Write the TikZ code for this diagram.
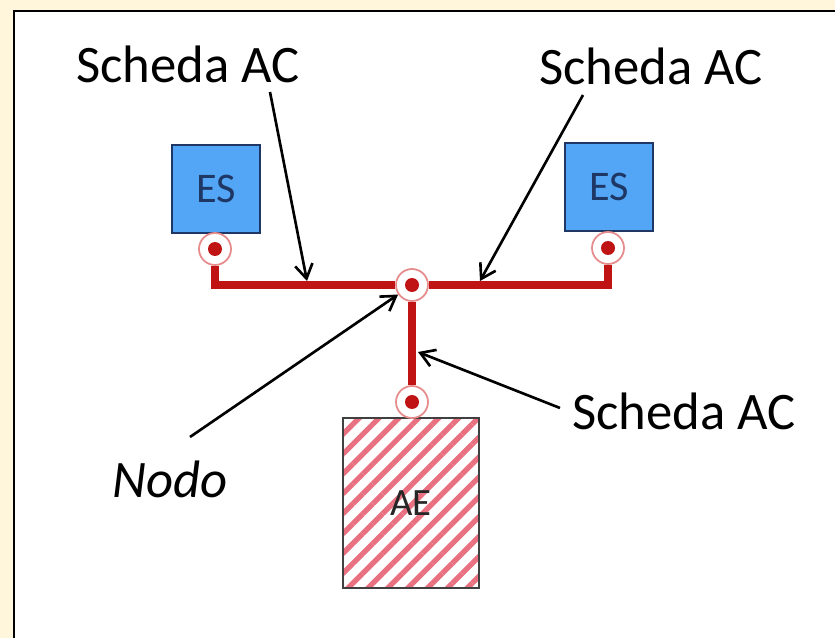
\documentclass[tikz,border=0pt]{standalone}
\usepackage{fontspec}
\setmainfont{Carlito}
\usepackage{tikz}
\usetikzlibrary{arrows, arrows.meta, patterns.meta}
\definecolor{cream}{RGB}{255,246,220}
\definecolor{acRed}{RGB}{192,20,20}
\definecolor{ringPink}{RGB}{230,140,140}
\definecolor{esBlue}{RGB}{82,166,245}
\definecolor{esNavy}{RGB}{30,55,100}
\definecolor{hatchPink}{RGB}{232,112,128}
\tikzstyle{esBox} = [draw=esNavy, fill=esBlue, line width=1pt,
   minimum size=1.76cm, text=esNavy, font=\fontsize{24}{26}\selectfont]
\tikzstyle{aeBox} = [draw=black!75, line width=0.8pt,
   pattern={Lines[angle=45,distance=8pt,line width=3pt]}, pattern color=hatchPink,
   minimum width=2.72cm, minimum height=3.4cm, text=black!85,
   font=\fontsize{22}{24}\selectfont]
\tikzstyle{port} = [circle, draw=ringPink, line width=1pt, fill=white,
   minimum size=0.64cm, inner sep=0]
\tikzstyle{acLine} = [acRed, line width=4.5pt]
\tikzstyle{pointer} = [-{Straight Barb[length=8pt,width=10pt]}, line width=1.5pt]
\tikzstyle{lbl} = [anchor=base, inner sep=0, font=\fontsize{30}{32}\selectfont]

\begin{document}
\begin{tikzpicture}[x=0.02cm, y=-0.02cm]
  \useasboundingbox (0,0) rectangle (835,638);
  \fill[cream] (0,0) rectangle (835,638);
  \fill[white] (14,11) rectangle (835,638);
  \draw[line width=1.7pt] (14,638) -- (14,11) -- (835,11);

  % boxes and ports
  \node[esBox] (esL) at (216,189) {ES};
  \node[esBox] (esR) at (609,187) {ES};
  \node[aeBox] (ae) at (411,503) {AE};
  \node[port] (pL) at (215,249) {};
  \node[port] (pR) at (608,248) {};
  \node[port] (pC) at (412,285) {};
  \node[port] (pB) at (412,402) {};

  % red wiring
  \draw[acLine] (pL) |- (pC);
  \draw[acLine] (pC) -| (pR);
  \draw[acLine] (pC) -- (pB);
  \foreach \p in {pL,pR,pC,pB}
    \fill[acRed] (\p) circle (0.14cm);

  % labels
  \node[lbl] (schTL) at (188,83) {Scheda AC};
  \node[lbl] (schTR) at (651,85) {Scheda AC};
  \node[lbl] (schBR) at (684,430) {Scheda AC};
  \node[lbl] (nodo) at (170,497) {\itshape Nodo};

  % pointers
  \coordinate (tlStart) at (270,92);
  \coordinate (tlTip) at (307,281);
  \coordinate (trStart) at (583,95);
  \coordinate (trTip) at (480,281);
  \coordinate (nodoStart) at (190,437);
  \coordinate (brStart) at (560,408);
  \coordinate (brTip) at (418,352);
  \draw[pointer] (tlStart) -- (tlTip);
  \draw[pointer] (trStart) -- (trTip);
  \draw[pointer] (nodoStart) -- (pC);
  \draw[pointer] (brStart) -- (brTip);
\end{tikzpicture}
\end{document}
